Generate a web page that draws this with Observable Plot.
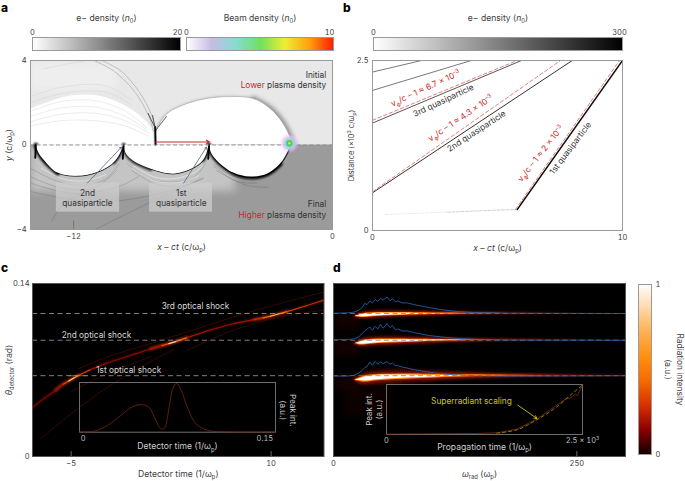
<!DOCTYPE html>
<html><head><meta charset="utf-8">
<script src="https://cdn.jsdelivr.net/npm/d3@7"></script>
<script src="https://cdn.jsdelivr.net/npm/@observablehq/plot@0.6"></script>
<style>html,body{margin:0;padding:0;background:#fff}#root{position:relative;width:685px;height:481px;overflow:hidden;font-family:Inter,sans-serif}
.let{position:absolute;font:800 12px Inter,sans-serif;color:#000;line-height:12px}</style>
</head><body><div id="root"></div>
<script>
// ---------- colour ramps
const greyRamp=["#ffffff","#000000"];
const beamRamp=["#ffffff","#c8bce4","#86dcd2","#6fe060","#eeee30","#ffa010","#ff1a00"];
const hotRamp=["#140000","#8a0000","#d83000","#f56a00","#ff9010","#ffb050","#ffd8a8","#ffffff"];
// ---------- panel a: field boundaries (x - ct, y)
const topBubbleX=[-8.19,-8.15,-7.64,-6.71,-5.79,-4.72,-3.66,-2.87,-2.27,-1.94,-1.85];
const topBubbleY=[0,0.66,1.47,1.94,2.18,2.27,2.18,1.71,1.0,0.33,0];
const topLeftX=[-14,-13.2,-12.27,-10.74,-9.2,-8.4,-8.19];
const topLeftY=[1.7,2.0,2.3,2.3,1.6,0.8,0];
const bubbleRX=[-5.72,-5.6,-5.3,-4.58,-3.8,-3.0,-2.41,-2.04,-1.94];
const bubbleRY=[0,-0.4,-0.8,-1.33,-1.52,-1.37,-0.9,-0.28,0];
const bubbleMX=[-9.68,-9.55,-9.23,-8.43,-7.36,-6.44,-6.0,-5.82,-5.72];
const bubbleMY=[0,-0.43,-0.76,-1.14,-1.37,-1.09,-0.75,-0.4,0];
const bubbleLX=[-13.75,-13.6,-13.3,-12.73,-11.67,-10.74,-10.14,-9.85,-9.68];
const bubbleLY=[0,-0.4,-0.8,-1.33,-1.47,-1.23,-0.85,-0.45,0];
const arcsMain=[
 [[-11.06,4],[-10.14,3.5],[-9.2,2.56],[-8.56,1.47],[-8.3,0.66]],
 [[-10.7,4],[-9.8,3.5],[-8.95,2.5],[-8.4,1.45],[-8.2,0.66]]];
const arcsLow=[
 [[-14,1.6],[-12.6,2.05],[-11,2.1],[-9.6,1.6],[-8.6,0.8]],
 [[-14,1.35],[-12.6,1.75],[-11,1.8],[-9.6,1.35],[-8.6,0.7]],
 [[-14,1.1],[-12.6,1.45],[-11,1.5],[-9.6,1.15],[-8.5,0.55]],
 [[-14,0.9],[-12.6,1.15],[-11,1.15],[-9.6,0.9],[-8.5,0.4]]];
const arcsFaint=[[[-13.4,3.6],[-12.3,3.84],[-11.5,3.95]],[[-14,2.3],[-12.5,2.75],[-10.5,2.8],[-9.3,2.1]],[[-14,2.0],[-12.5,2.45],[-10.5,2.5],[-9.3,1.9]]];
const cuspStems=[
 [[-13.75,0],[-13.78,-0.6]],[[-9.68,0],[-9.72,-0.65]],[[-5.72,0],[-5.76,-0.65]],[[-8.2,0.02],[-8.22,0.85]]];
const cuspArms=[
 [[-8.22,0.8],[-8.55,1.5]],[[-8.19,0.7],[-7.7,1.35]],[[-8.22,0.8],[-8.34,1.4]]];
const streaksDark=[
 [[-14,-1.1],[-12.8,-1.7],[-11.5,-1.9],[-10.5,-1.6],[-9.9,-0.9]],
 [[-14,-1.5],[-12.5,-2.05],[-11,-2.0],[-10,-1.2]],
 [[-9.5,-0.9],[-8.5,-1.6],[-7.4,-1.75],[-6.4,-1.5],[-5.9,-0.9]],
 [[-9.3,-1.2],[-8.2,-1.85],[-7,-1.95],[-6,-1.55]],
 [[-5.5,-0.9],[-4.8,-1.4],[-3.8,-1.65],[-3,-1.5]],
 [[-5.5,-1.0],[-4.5,-1.7],[-3.5,-1.8]],
 [[-5.4,-1.2],[-4,-1.9],[-3,-2.0]],
 [[-11,-4],[-8,-2.5],[-6,-1.6]],
 [[-14,-2.2],[-11,-2.7],[-8,-2.3],[-6.5,-1.8]],
 [[-13,-3.6],[-12.5,-2.8],[-11.2,-2.1]],
 [[-14,-1.8],[-12,-2.3],[-10,-2.0],[-9,-1.5]]];
const streaksLight=[
 [[-9.2,-1.0],[-8.3,-1.5],[-7.4,-1.6],[-6.4,-1.3],[-6,-0.95]],
 [[-13.5,-1.1],[-12.5,-1.6],[-11.5,-1.7],[-10.5,-1.4]],
 [[-9.3,-1.1],[-8.3,-1.68],[-7.2,-1.78],[-6.2,-1.45]]];
// ---------- panel b: trajectories (x - ct, distance)
const line5=[[0,2.33],[1.96,2.5]], line4=[[0,2.06],[3.95,2.5]];
const line3=[[0,1.58],[5.96,2.5]], line2=[[0,0.554],[7.99,2.5]], line1=[[5.79,0.309],[10,2.5]];
const fit3=[[0,1.62],[5.79,2.5]], fit2=[[0,0.57],[7.52,2.5]], fit1=[[5.72,0.309],[9.88,2.5]];
const preFaint=[[0.5,0.235],[3,0.27]], preLine=[[3,0.27],[5.75,0.31]];
// ---------- panel c: shock curves (detector time, theta)
const mainT=[-7.93,-7.05,-6.18,-5.6,-5.18,-4.8,-4.43,-3.55,-2.3,-0.3,0.95,1.8,2.33,2.9,3.7,5.2,7.2,8.7,9.4,9.95,10.6,11.2,12.7,13.97];
const mainTheta=[0.0395,0.0468,0.0535,0.0585,0.0611,0.0636,0.0657,0.0703,0.0757,0.0827,0.087,0.0897,0.0914,0.0932,0.0962,0.1016,0.1076,0.1108,0.1122,0.1135,0.1155,0.1173,0.1222,0.1265];
const mainI=[0.12,0.14,0.18,0.34,0.85,0.62,0.3,0.18,0.15,0.16,0.2,0.36,0.85,0.42,0.2,0.17,0.2,0.26,0.45,0.75,0.48,0.3,0.26,0.22];
const glowSegs=[
 [[-6.18,0.0535],[-5.6,0.0585],[-5.18,0.0611],[-4.8,0.0636],[-4.43,0.0657]],
 [[0.95,0.087],[1.8,0.0897],[2.33,0.0914],[2.9,0.0932],[3.7,0.0962]],
 [[8.7,0.1108],[9.4,0.1122],[9.95,0.1135],[10.6,0.1155],[11.2,0.1173]]];
const faintCurves=[
 [[-4.43,0.0711],[-2.3,0.0805],[0.95,0.0914],[3.7,0.1008],[7.2,0.113],[10.2,0.1224],[13.97,0.1332]],
 [[-7.3,0.0143],[-5.3,0.0319],[-2.8,0.0522],[0.2,0.0724],[2.7,0.0865]],
 [[3.7,0.0859],[7.2,0.1022],[10.7,0.113],[13.97,0.1184]],
 [[-5,0.0525],[-3,0.0635],[-1,0.0725],[1,0.081]]];
const shockTheta=[0.0654,0.0941,0.1157];
const insetCT=[-0.003,0.0091,0.0201,0.0311,0.0407,0.049,0.0545,0.06,0.0641,0.0669,0.071,0.0738,0.0771,0.0806,0.0861,0.093,0.1027,0.1192,0.1588];
const insetCI=[0.007,0.02,0.141,0.342,0.523,0.564,0.51,0.242,0.074,0.074,0.51,0.879,1,0.879,0.51,0.174,0.04,0.007,0.007];
// ---------- panel d: spectra (omega, theta x 1000)
const blueX=[0.5,14,21,26,29.5,32,34.6,37.3,40,42.8,45.5,48.3,51,55,58,60.6,63.4,66,70.5,75.7,82.5,91,99.7,110,123.7,144,178.4,300];
const blue1=[115.9,116.2,116.8,118.4,120.5,123.8,123,125.9,124.3,127,125.4,128.1,126.5,129.2,125.9,127.8,125.1,125.9,124.3,124.3,123,121.6,120.3,118.9,117.6,116.5,116.0,115.7];
const blue2=[94.6,94.6,95.1,96.8,99.5,101.6,103.2,104.9,102.2,105.4,103.2,107,103.8,107.6,104.3,105.9,102.7,103.2,101.6,101.6,100.3,98.9,97.8,96.8,95.7,94.9,94.3,94.1];
const blue3=[65.1,65.1,65.7,67.6,69.7,71.9,73,76.5,73.8,77,74.6,76.5,75.1,76.8,74.6,75.7,73.5,73.5,72.4,71.6,70.3,69.2,68.1,67,66.2,65.4,65.1,65.4];
const streakX=[22,27,33,45,60,80,105,140,180,230,300];
const streakC=[-2.7,-2.5,-2.0,-1.2,-0.8,-0.5,-0.3,-0.1,0,0,0];
const shadeW=[1.5,4,5.5,6,6,5.4,4.4,3,1.8,0.9,0.2];
const haloW=[0.8,2.4,3.4,3.4,3.2,2.8,2.2,1.5,0.9,0.4,0.12];
const orangeW=[0,1.5,2.6,2.6,2.3,2,1.4,0.8,0.3,0,0];
const coreW=[0,0.7,1.7,1.8,1.5,1.1,0.6,0.2,0,0,0];
const rowBase=[115.7,94.1,65.4], rowStretch=[0.8,0.8,1], rowWidth=[0.6,0.75,1], rowDrop=[0.8,1,1.3];
const stripeX=[24,26,28,30,32,34,36,38,40,42,44,46,48,50,52,54,56,58,60,62,64,66,68,70,72,74,76,78,80,82,84,86,88,90];
const insetDT=[0,1110,1407,1662,1917,2130,2300,2343,2406,2436,2500];
const insetDI=[0.007,0.02,0.033,0.107,0.307,0.54,0.727,0.727,0.807,0.78,0.987];
const fitDT=[1407,1662,1917,2172,2385,2500];
const fitDI=[0.027,0.093,0.293,0.553,0.84,0.987];

// ---------- helpers
const FONT="Inter, sans-serif", INK="#3c3c3c", RED="#c6282a", TICK=7.5, LAB=8.6;
const root=document.getElementById("root");
const pts=a=>a.map(([x,y])=>({x,y}));
const zip=(xs,ys)=>xs.map((x,i)=>({x,y:ys[i]}));
const multi=(list)=>list.flatMap((a,i)=>a.map(([x,y])=>({x,y,k:i})));
const labelX=(label,labelOffset,extra={})=>Plot.axisX({ticks:[],tickSize:0,label,labelAnchor:"center",labelArrow:false,labelOffset,fontSize:LAB,...extra});
const labelY=(label,labelOffset,extra={})=>Plot.axisY({ticks:[],tickSize:0,label,labelAnchor:"center",labelArrow:false,labelOffset,fontSize:LAB,...extra});
function rich(svg){
  svg.querySelectorAll("text").forEach(t=>{
    if(t.children.length) return;
    const s=t.textContent; if(!/[_^*#](red)?\{/.test(s)) return;
    t.textContent="";
    let shift=0;
    s.split(/(_\{[^}]*\}|\^\{[^}]*\}|\*\{[^}]*\}|#red\{[^}]*\})/).filter(Boolean).forEach(p=>{
      const m=p.match(/^(_|\^|\*|#red)\{([^}]*)\}$/);
      const el=document.createElementNS("http://www.w3.org/2000/svg","tspan");
      const fs=parseFloat(t.closest("[font-size]")?.getAttribute("font-size"))||8;
      let target=0;
      if(m){el.textContent=m[2];
        if(m[1]=="_"){target=0.28*fs;el.setAttribute("font-size",fs*0.68);}
        if(m[1]=="^"){target=-0.38*fs;el.setAttribute("font-size",fs*0.68);}
        if(m[1]=="*")el.setAttribute("font-style","italic");
        if(m[1]=="#red")el.setAttribute("fill",RED);
      } else el.textContent=p;
      if(target!==shift){el.setAttribute("dy",target-shift);shift=target;}
      t.appendChild(el);
    });
  });
}
function panel(box,opts){
  const {ml=30,mr=12,mt=16,mb=28}=opts;
  const w=box.R-box.L+ml+mr,h=box.B-box.T+mt+mb;
  const svg=Plot.plot({...opts,width:w,height:h,marginLeft:ml,marginRight:mr,marginTop:mt,marginBottom:mb,
    style:{position:"absolute",left:(box.L-ml)+"px",top:(box.T-mt)+"px",background:"transparent",overflow:"visible",fontFamily:FONT,fontSize:TICK+"px",color:INK,maxWidth:"none"}});
  rich(svg);root.appendChild(svg);return svg;
}
const letter=(s,x,y)=>{const d=document.createElement("div");d.className="let";d.textContent=s;d.style.left=x+"px";d.style.top=y+"px";root.appendChild(d);};
letter("a",1,2);letter("b",343,2);letter("c",1,262);letter("d",333,262);

// horizontal colour bar with title
function hbar(box,max,ramp,title,shift){
  const stops=d3.range(0,1,0.004).map(v=>v*max);
  panel(box,{ml:4,mr:6,mt:34,mb:2,
    x:{domain:[0,max]},y:{domain:[0,1],axis:null},
    color:{type:"linear",domain:ramp.map((_,i)=>i/(ramp.length-1)*max),range:ramp},
    marks:[
      Plot.raster(stops,{width:stops.length,height:1,fill:d=>d,x1:0,x2:max,y1:0,y2:1}),
      Plot.frame({stroke:"#9a9a9a",strokeWidth:1}),
      Plot.axisX({anchor:"top",ticks:[0],tickSize:0,tickPadding:3,tickFormat:d3.format("d"),label:null,fontSize:TICK}),
      Plot.axisX({anchor:"top",ticks:[max],tickSize:0,tickPadding:3,tickFormat:d3.format("d"),label:null,dx:shift,fontSize:TICK}),
      labelX(title,23,{anchor:"top"})
    ]});
}
hbar({L:32,R:180,T:37,B:50},20,greyRamp,"e− density (*{n}_{0})",-3);
hbar({L:186,R:333,T:37,B:50},10,beamRamp,"Beam density (*{n}_{0})",-4);
hbar({L:373,R:622,T:37,B:50},300,greyRamp,"e− density (*{n}_{0})",-3);

// ---------- panel a
const A={L:30,R:332,T:60,B:229};
const sheath=(xs,ys,from,to,w,stroke)=>Plot.line(zip(xs,ys).slice(from,to),{x:"x",y:"y",stroke,strokeWidth:w,imageFilter:"blur(0.8px)",curve:"catmull-rom"});
panel(A,{ml:30,mr:8,mt:6,mb:26,clip:true,
  x:{domain:[-14,0]},y:{domain:[-4,4]},
  marks:[
    Plot.rect([0],{x1:-14,x2:0,y1:0,y2:4,fill:"#e8e8e8"}),
    Plot.rect([0],{x1:-14,x2:0,y1:-4,y2:0,fill:"#9b9b9b"}),
    Plot.rect([0],{x1:-14,x2:-10,y1:2.6,y2:3.8,fill:"#eeeeee",imageFilter:"blur(5px)"}),
    Plot.rect([0],{x1:-14,x2:-4.5,y1:-2.2,y2:0,fill:"#c4c4c4",imageFilter:"blur(4px)"}),
    Plot.line(multi(streaksDark),{x:"x",y:"y",z:"k",stroke:"#3a3a3a",strokeWidth:0.4,strokeOpacity:0.5,curve:"catmull-rom"}),
    Plot.line(multi(streaksLight),{x:"x",y:"y",z:"k",stroke:"#f4f4f4",strokeWidth:0.7,strokeOpacity:0.85,curve:"catmull-rom"}),
    Plot.line(multi(arcsFaint),{x:"x",y:"y",z:"k",stroke:"#d6d6d6",strokeWidth:0.6,curve:"catmull-rom"}),
    Plot.areaY(zip(topLeftX,topLeftY),{x:"x",y1:0,y2:"y",fill:"#ffffff",curve:"catmull-rom"}),
    Plot.line(zip(topBubbleX,topBubbleY).slice(0,7),{x:"x",y:"y",stroke:"#c4c4c4",strokeWidth:3,imageFilter:"blur(1.2px)",curve:"catmull-rom"}),
    Plot.line(zip(topBubbleX,topBubbleY).slice(6),{x:"x",y:"y",stroke:"#8a8a8a",strokeWidth:5,imageFilter:"blur(2px)",curve:"catmull-rom"}),
    Plot.areaY(zip(topBubbleX,topBubbleY),{x:"x",y1:0,y2:"y",fill:"#ffffff",stroke:"#888",strokeWidth:0.45,curve:"catmull-rom"}),
    Plot.line(multi(arcsLow),{x:"x",y:"y",z:"k",stroke:"#dddddd",strokeWidth:0.6,curve:"catmull-rom"}),
    Plot.line(multi(arcsMain),{x:"x",y:"y",z:"k",stroke:"#9a9a9a",strokeWidth:0.55,curve:"catmull-rom"}),
    ...[[bubbleLX,bubbleLY,1],[bubbleMX,bubbleMY,1],[bubbleRX,bubbleRY,1.5]].map(([xs,ys,w])=>
      Plot.line(zip(xs,ys),{x:"x",y:"y",stroke:"#2a2a2a",strokeWidth:w,imageFilter:"blur(0.7px)",curve:"catmull-rom"})),
    sheath(bubbleLX,bubbleLY,0,4,4.5,"#000"),
    sheath(bubbleLX,bubbleLY,6,9,2.5,"#111"),
    sheath(bubbleMX,bubbleMY,0,4,3.6,"#222"),
    sheath(bubbleMX,bubbleMY,6,9,2.5,"#111"),
    sheath(bubbleRX,bubbleRY,0,7,4,"#000"),
    ...[[bubbleLX,bubbleLY],[bubbleMX,bubbleMY],[bubbleRX,bubbleRY]].map(([xs,ys])=>
      Plot.areaY(zip(xs,ys),{x:"x",y1:0,y2:"y",fill:"#ffffff",curve:"catmull-rom"})),
    Plot.line(multi(cuspStems),{x:"x",y:"y",z:"k",stroke:"#000",strokeWidth:1.9,imageFilter:"blur(0.4px)"}),
    Plot.line(multi(cuspArms),{x:"x",y:"y",z:"k",stroke:"#333",strokeWidth:0.8,imageFilter:"blur(0.4px)"}),
    Plot.ruleY([0],{stroke:"#8a8a8a",strokeDasharray:"4 2.5",strokeWidth:0.9}),
    Plot.arrow([0],{x1:-8.2,y1:0.14,x2:-5.7,y2:0.14,stroke:RED,strokeWidth:1.1,headLength:5}),
    Plot.dot([0],{x:-2,y:0.08,r:8,fill:"#f8b8f8",fillOpacity:0.8,imageFilter:"blur(1.5px)"}),
    Plot.dot([0],{x:-2,y:0.08,r:5.5,fill:"#7fe0e6",imageFilter:"blur(1px)"}),
    Plot.dot([0],{x:-2,y:0.08,r:3.2,fill:"#58c85a",imageFilter:"blur(0.6px)"}),
    Plot.dot([0],{x:-2,y:0.08,r:1.2,fill:"#e8e030"}),
    Plot.rect([[-12.8,-9.87],[-8.48,-5.56]],{x1:d=>d[0],x2:d=>d[1],y1:-1.8,y2:-3.18,fill:"#cfcfcf",fillOpacity:0.72}),
    Plot.arrow([[-11.36,-1.8,-9.78,-0.1],[-6.9,-1.8,-5.84,-0.1]],{x1:d=>d[0],y1:d=>d[1],x2:d=>d[2],y2:d=>d[3],stroke:"#55657f",strokeWidth:0.8,headLength:4}),
    Plot.text(["2nd\nquasiparticle"],{x:-11.36,y:-2.5,fontSize:8.3,fill:"#333",lineHeight:1.25}),
    Plot.text(["1st\nquasiparticle"],{x:-7.01,y:-2.5,fontSize:8.3,fill:"#333",lineHeight:1.25}),
    Plot.text(["Initial"],{x:-0.29,y:3.3,textAnchor:"end",fontSize:8.3,fill:"#333"}),
    Plot.text(["#red{Lower} plasma density"],{x:-0.29,y:2.84,textAnchor:"end",fontSize:8.3,fill:"#333"}),
    Plot.text(["Final"],{x:-0.29,y:-2.8,textAnchor:"end",fontSize:8.3,fill:"#333"}),
    Plot.text(["#red{Higher} plasma density"],{x:-0.29,y:-3.32,textAnchor:"end",fontSize:8.3,fill:"#333"}),
    Plot.ruleX([-12],{y1:-4,y2:-3.6,stroke:"#666",strokeWidth:0.7}),
    Plot.frame({stroke:"#9a9a9a",strokeWidth:1}),
    Plot.axisX({ticks:[-12,0],tickSize:0,tickPadding:4,label:null,fontSize:TICK}),
    Plot.axisY({ticks:[-4,0,4],tickSize:0,tickPadding:4,label:null,fontSize:TICK}),
    labelX("*{x} – *{ct} (c/ω_{p})",20),
    labelY("*{y} (c/ω_{p})",25)
  ]});

// ---------- panel b
const B={L:372,R:622,T:60,B:230};
const rot=(s,x,y,a,fill)=>Plot.text([s],{x,y,rotate:a,fontSize:8.3,fill});
panel(B,{ml:30,mr:10,mt:6,mb:26,clip:true,
  x:{domain:[0,10]},y:{domain:[0,2.5]},
  marks:[
    Plot.line(pts(preFaint),{x:"x",y:"y",stroke:"#e4e4e4",strokeWidth:0.7,strokeDasharray:"3 1.5"}),
    Plot.line(pts(preLine),{x:"x",y:"y",stroke:"#bcbcbc",strokeWidth:0.7,strokeDasharray:"3 1.5"}),
    Plot.line(pts(line5),{x:"x",y:"y",stroke:"#555",strokeWidth:0.8}),
    Plot.line(pts(line4),{x:"x",y:"y",stroke:"#555",strokeWidth:0.8}),
    Plot.line(pts(line3),{x:"x",y:"y",stroke:"#444",strokeWidth:0.9}),
    Plot.line(pts(line2),{x:"x",y:"y",stroke:"#333",strokeWidth:1}),
    Plot.line(pts(line1),{x:"x",y:"y",stroke:"#111",strokeWidth:1.4}),
    Plot.line(pts(fit3),{x:"x",y:"y",stroke:"#d9484a",strokeWidth:0.7,strokeDasharray:"3.5 2.5"}),
    Plot.line(pts(fit2),{x:"x",y:"y",stroke:"#d9484a",strokeWidth:0.7,strokeDasharray:"3.5 2.5"}),
    Plot.line(pts(fit1),{x:"x",y:"y",stroke:"#d9484a",strokeWidth:0.7,strokeDasharray:"3.5 2.5"}),
    rot("v_{ϕ}/c – 1 ≈ 6.7 × 10^{–3}",2.12,2.09,-25,RED),
    rot("3rd quasiparticle",2.84,1.91,-25,"#333"),
    rot("v_{ϕ}/c – 1 ≈ 4.3 × 10^{–3}",3.52,1.65,-34,RED),
    rot("2nd quasiparticle",4.16,1.46,-33,"#333"),
    rot("v_{ϕ}/c – 1 ≈ 2 × 10^{–3}",6.72,1.13,-52,RED),
    rot("1st quasiparticle",7.92,1.21,-53,"#333"),
    Plot.frame({stroke:"#9a9a9a",strokeWidth:1}),
    Plot.axisX({ticks:[0,10],tickSize:0,tickPadding:4,tickFormat:d3.format("d"),label:null,fontSize:TICK}),
    Plot.axisY({ticks:[0,2.5],tickSize:0,tickPadding:4,tickFormat:d=>d===0?"0":"2.5",label:null,fontSize:TICK}),
    labelX("*{x} – *{ct} (c/ω_{p})",20),
    labelY("Distance (×10^{3} c/ω_{p})",24,{fontSize:7.4})
  ]});

// ---------- panel c
const C={L:32,R:323.5,T:283,B:456};
const hotColor={type:"linear",domain:hotRamp.map((_,i)=>i/(hotRamp.length-1)),range:hotRamp};
const mainRows=mainT.map((x,i)=>({x,y:mainTheta[i],v:mainI[i]}));
panel(C,{ml:32,mr:10,mt:4,mb:25,clip:true,
  x:{domain:[-7.9,13.97]},y:{domain:[0,0.14]},color:hotColor,
  marks:[
    Plot.frame({fill:"#000"}),
    Plot.line(multi(faintCurves),{x:"x",y:"y",z:"k",stroke:"#6a1204",strokeWidth:1,strokeOpacity:0.5,curve:"catmull-rom",imageFilter:"blur(0.5px)"}),
    Plot.line(mainRows,{x:"x",y:"y",stroke:"#a82008",strokeWidth:2.6,strokeOpacity:0.3,curve:"catmull-rom",imageFilter:"blur(1px)"}),
    Plot.line(multi(glowSegs),{x:"x",y:"y",z:"k",stroke:"#d83808",strokeWidth:3.4,strokeOpacity:0.55,curve:"catmull-rom",imageFilter:"blur(1px)"}),
    Plot.line(mainRows,{x:"x",y:"y",stroke:"v",z:null,strokeWidth:1.2}),
    Plot.ruleY(shockTheta,{stroke:"#a0a0a0",strokeWidth:0.8,strokeDasharray:"5 3.5"}),
    Plot.ruleY([0.0654],{x1:-5.18,x2:-3.73,stroke:"#a09410",strokeWidth:0.7}),
    Plot.text(["3rd optical shock"],{x:4.33,y:0.1216,fill:"#d8d8d8",fontSize:8.3}),
    Plot.text(["2nd optical shock"],{x:-3.1,y:0.0984,fill:"#d8d8d8",fontSize:8.3}),
    Plot.text(["1st optical shock"],{x:-0.68,y:0.0697,fill:"#d8d8d8",fontSize:8.3}),
    Plot.ruleX([-5,10],{y1:0,y2:0.004,stroke:"#999",strokeWidth:0.7}),
    Plot.frame({stroke:"#555",strokeWidth:1}),
    Plot.axisX({ticks:[-5,10],tickSize:0,tickPadding:4,label:null,fontSize:TICK}),
    Plot.axisY({ticks:[0,0.14],tickSize:0,tickPadding:3,tickFormat:d=>d===0?"0":"0.14",label:null,fontSize:TICK}),
    labelX("Detector time (1/ω_{p})",20),
    labelY("*{θ}_{detector} (rad)",27)
  ]});
// inset c
panel({L:78.7,R:274.7,T:382.3,B:432},{ml:4,mr:40,mt:2,mb:24,
  x:{domain:[-0.003,0.1588]},y:{domain:[0,1.02],axis:null},
  marks:[
    Plot.frame({stroke:"#6e6e6e",strokeWidth:1}),
    Plot.line(zip(insetCT,insetCI),{x:"x",y:"y",stroke:"#7a2610",strokeWidth:0.8,curve:"catmull-rom"}),
    Plot.axisX({ticks:[0,0.15],tickSize:0,tickPadding:3,tickFormat:d=>d===0?"0":"0.15",color:"#bdbdbd",label:null,fontSize:TICK}),
    labelX("Detector time (1/ω_{p})",17,{color:"#cfcfcf"}),
    Plot.text(["Peak int.\n(a.u.)"],{frameAnchor:"right",textAnchor:"middle",dx:13,dy:3,rotate:90,fill:"#cfcfcf",fontSize:8,lineHeight:1.25})
  ]});

// ---------- panel d
const D={L:333,R:625,T:283,B:456};
const streakRows=(row,w)=>streakX.map((x,i)=>({x:22+(x-22)*rowStretch[row],
  lo:(rowBase[row]+streakC[i]*rowDrop[row]-w[i]*rowWidth[row])/1000,
  hi:(rowBase[row]+streakC[i]*rowDrop[row]+w[i]*rowWidth[row])/1000}));
const blueRows=(b)=>blueX.map((x,i)=>({x,y:b[i]/1000}));
panel(D,{ml:10,mr:6,mt:4,mb:25,clip:true,
  x:{domain:[0,300]},y:{domain:[0,0.14],axis:null},
  marks:[
    Plot.frame({fill:"#000"}),
    Plot.rect([0.062,0.09,0.112],{x1:1,x2:28,y1:d=>d-0.009,y2:d=>d+0.005,fill:"#3c0500",fillOpacity:0.3,imageFilter:"blur(3px)"}),
    Plot.rect([0],{x1:10,x2:60,y1:0.032,y2:0.057,fill:"#260300",fillOpacity:0.35,imageFilter:"blur(5px)"}),
    ...[0,1,2].flatMap(r=>[
      Plot.areaY(streakRows(r,shadeW),{x:"x",y1:"lo",y2:"hi",fill:"#4e0a00",curve:"catmull-rom",imageFilter:"blur(1.2px)"}),
      Plot.ruleX(stripeX,{y1:(rowBase[r]-6)/1000,y2:(rowBase[r]+5)/1000,stroke:"#000",strokeWidth:0.8,strokeOpacity:0.5}),
      Plot.areaY(streakRows(r,haloW),{x:"x",y1:"lo",y2:"hi",fill:"#a51d04",curve:"catmull-rom",imageFilter:"blur(0.8px)"}),
      Plot.areaY(streakRows(r,orangeW),{x:"x",y1:"lo",y2:"hi",fill:"#ff8a14",curve:"catmull-rom",imageFilter:"blur(0.6px)"}),
      Plot.areaY(streakRows(r,coreW),{x:"x",y1:"lo",y2:"hi",fill:"#ffffff",curve:"catmull-rom",imageFilter:"blur(0.3px)"})
    ]),
    Plot.ruleY(shockTheta,{stroke:"#7d7d7d",strokeWidth:0.8,strokeDasharray:"5 3.5"}),
    Plot.line(blueRows(blue1),{x:"x",y:"y",stroke:"#2368b8",strokeWidth:0.9,strokeOpacity:0.9}),
    Plot.line(blueRows(blue2),{x:"x",y:"y",stroke:"#2368b8",strokeWidth:0.9,strokeOpacity:0.9}),
    Plot.line(blueRows(blue3),{x:"x",y:"y",stroke:"#2368b8",strokeWidth:0.9,strokeOpacity:0.9}),
    Plot.ruleX([250],{y1:0,y2:0.004,stroke:"#999",strokeWidth:0.7}),
    Plot.frame({stroke:"#555",strokeWidth:1}),
    Plot.axisX({ticks:[0,250],tickSize:0,tickPadding:4,label:null,fontSize:TICK}),
    labelX("*{ω}_{rad} (ω_{p})",20)
  ]});
// inset d
panel({L:386.3,R:582.3,T:383.7,B:433.7},{ml:34,mr:30,mt:2,mb:24,
  x:{domain:[0,2500]},y:{domain:[0,1],axis:null},
  marks:[
    Plot.frame({stroke:"#6e6e6e",strokeWidth:1}),
    Plot.line(zip(insetDT,insetDI),{x:"x",y:"y",stroke:"#8a2c10",strokeWidth:0.8}),
    Plot.line(zip(fitDT,fitDI),{x:"x",y:"y",stroke:"#b4b400",strokeWidth:0.7,strokeDasharray:"3 3",curve:"catmull-rom"}),
    Plot.text(["Superradiant scaling"],{x:1084,y:0.673,fill:"#c8c800",fontSize:8.3}),
    Plot.arrow([0],{x1:1675,y1:0.587,x2:1918,y2:0.32,stroke:"#c8c800",strokeWidth:0.9,headLength:5}),
    Plot.axisX({ticks:[0,2500],tickSize:0,tickPadding:3,tickFormat:d=>d===0?"0":"2.5 × 10^{3}",color:"#bdbdbd",label:null,fontSize:TICK}),
    labelX("Propagation time (1/ω_{p})",15,{color:"#cfcfcf"}),
    Plot.text(["Peak int.\n(a.u.)"],{frameAnchor:"left",textAnchor:"middle",dx:-13,rotate:-90,fill:"#cfcfcf",fontSize:8,lineHeight:1.25})
  ]});

// ---------- vertical colour bar
const stopsV=d3.range(0,1,0.005);
panel({L:638,R:651,T:284,B:454},{ml:2,mr:34,mt:4,mb:6,
  x:{domain:[0,1],axis:null},y:{domain:[0,1]},color:hotColor,
  marks:[
    Plot.raster(stopsV,{width:1,height:stopsV.length,fill:d=>d,x1:0,x2:1,y1:0,y2:1}),
    Plot.frame({stroke:"#9a9a9a",strokeWidth:1}),
    Plot.axisY({anchor:"right",ticks:[0,1],tickSize:0,tickPadding:4,tickFormat:d3.format("d"),label:null,fontSize:TICK}),
    Plot.text(["Radiation intensity\n(a.u.)"],{frameAnchor:"right",textAnchor:"middle",dx:23,rotate:90,fill:INK,fontSize:8.3,lineHeight:1.45})
  ]});
</script></body></html>
